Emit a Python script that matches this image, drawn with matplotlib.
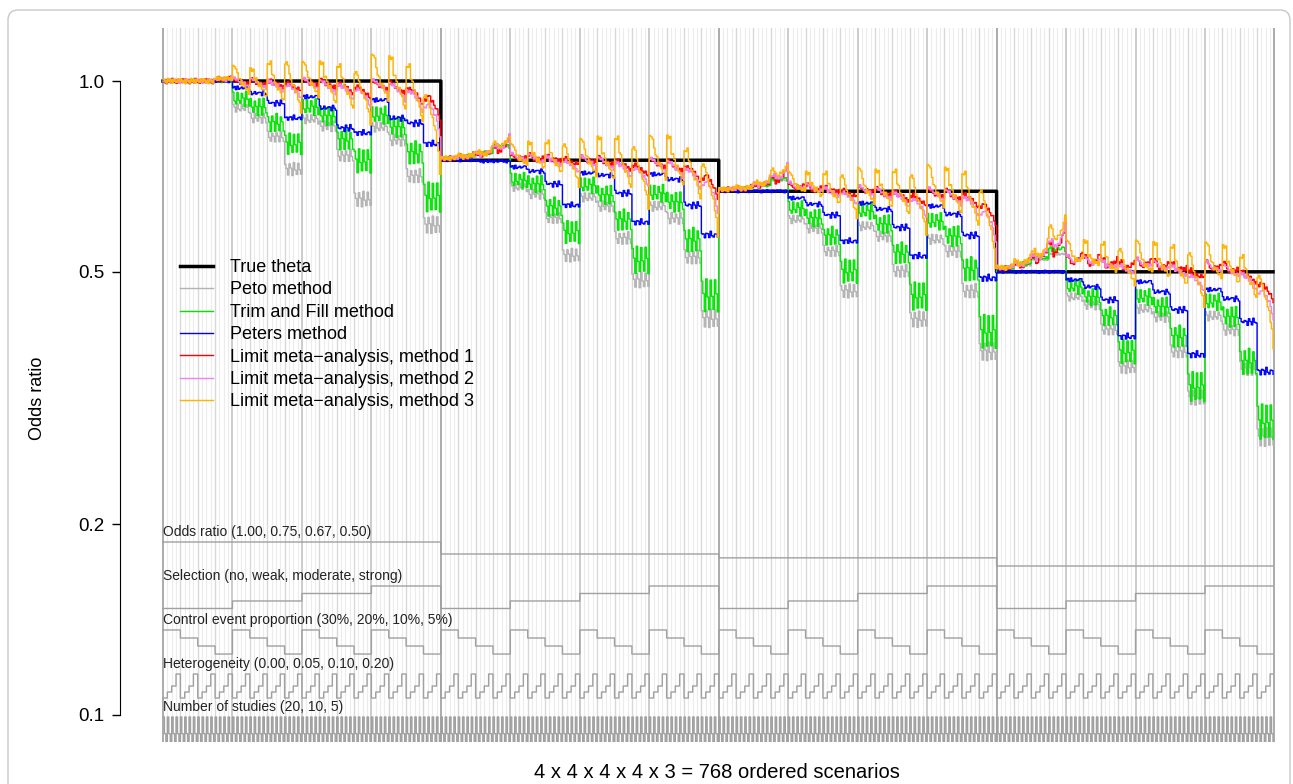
import numpy as np
import matplotlib
matplotlib.use("Agg")
import matplotlib.pyplot as plt
import matplotlib.transforms as mtransforms
from matplotlib.lines import Line2D
from matplotlib.patches import FancyBboxPatch

plt.rcParams["font.family"] = ["Liberation Sans", "DejaVu Sans"]


#*****************************************design factors*****************************************#
odds_ratios = [1.00, 0.75, 0.67, 0.50]
selection = ["no", "weak", "moderate", "strong"]
control_props = [0.30, 0.20, 0.10, 0.05]
heterogeneity = [0.00, 0.05, 0.10, 0.20]
n_studies = [20, 10, 5]

#************************* estimate / true OR, read per block [OR][selection][control] **********#
peto_ratio = [
    [[1.000, 1.000, 1.000, 1.000], [0.907, 0.874, 0.816, 0.726], [0.871, 0.849, 0.762, 0.651], [0.846, 0.807, 0.708, 0.593]],
    [[1.007, 1.015, 1.026, 1.052], [0.907, 0.884, 0.810, 0.708], [0.874, 0.846, 0.753, 0.647], [0.846, 0.810, 0.703, 0.563]],
    [[1.007, 1.011, 1.022, 1.041], [0.903, 0.874, 0.804, 0.696], [0.881, 0.849, 0.748, 0.628], [0.840, 0.804, 0.696, 0.559]],
    [[1.015, 1.026, 1.045, 1.067], [0.913, 0.887, 0.810, 0.708], [0.874, 0.849, 0.748, 0.634], [0.852, 0.810, 0.703, 0.549]],
]
trimfill_ratio = [
    [[1.000, 1.000, 1.000, 1.000], [0.937, 0.910, 0.858, 0.796], [0.910, 0.881, 0.807, 0.748], [0.884, 0.846, 0.770, 0.656]],
    [[1.007, 1.015, 1.026, 1.052], [0.930, 0.917, 0.843, 0.770], [0.913, 0.881, 0.804, 0.696], [0.887, 0.859, 0.748, 0.612]],
    [[1.007, 1.011, 1.022, 1.045], [0.940, 0.907, 0.849, 0.748], [0.930, 0.887, 0.798, 0.683], [0.897, 0.849, 0.753, 0.601]],
    [[1.015, 1.030, 1.052, 1.087], [0.947, 0.913, 0.849, 0.748], [0.913, 0.881, 0.790, 0.659], [0.897, 0.849, 0.721, 0.580]],
]
peters_ratio = [
    [[1.000, 1.000, 1.000, 1.000], [0.975, 0.957, 0.923, 0.874], [0.944, 0.907, 0.843, 0.828], [0.933, 0.874, 0.858, 0.796]],
    [[1.000, 1.000, 0.996, 0.996], [0.975, 0.961, 0.917, 0.849], [0.954, 0.947, 0.887, 0.798], [0.950, 0.933, 0.849, 0.762]],
    [[1.000, 1.000, 1.000, 1.000], [0.975, 0.954, 0.917, 0.834], [0.957, 0.937, 0.877, 0.790], [0.947, 0.920, 0.852, 0.729]],
    [[1.000, 1.000, 1.000, 1.000], [0.971, 0.947, 0.903, 0.790], [0.964, 0.930, 0.871, 0.740], [0.937, 0.907, 0.834, 0.696]],
]
# limit meta-analysis: level for heterogeneity > 0
limit1_tail = [
    [[1.000, 1.000, 1.000, 1.007], [0.993, 0.989, 0.986, 0.975], [0.989, 0.982, 0.971, 0.957], [0.978, 0.968, 0.947, 0.913]],
    [[1.007, 1.015, 1.026, 1.052], [1.007, 1.004, 1.000, 0.989], [0.996, 0.989, 0.978, 0.961], [0.982, 0.971, 0.950, 0.913]],
    [[1.007, 1.011, 1.026, 1.056], [1.015, 1.007, 1.000, 0.986], [1.000, 0.989, 0.978, 0.964], [0.986, 0.978, 0.964, 0.923]],
    [[1.015, 1.030, 1.060, 1.110], [1.045, 1.040, 1.030, 1.020], [1.030, 1.020, 1.010, 0.985], [1.015, 1.005, 0.975, 0.930]],
]
limit2_tail = [
    [[1.000, 1.000, 1.000, 1.007], [0.986, 0.982, 0.975, 0.960], [0.980, 0.970, 0.958, 0.940], [0.970, 0.955, 0.930, 0.880]],
    [[1.007, 1.015, 1.026, 1.055], [1.000, 0.995, 0.988, 0.972], [0.985, 0.978, 0.962, 0.940], [0.972, 0.960, 0.935, 0.885]],
    [[1.007, 1.011, 1.028, 1.060], [1.008, 1.000, 0.988, 0.970], [0.990, 0.980, 0.965, 0.940], [0.978, 0.968, 0.945, 0.890]],
    [[1.015, 1.030, 1.062, 1.120], [1.035, 1.028, 1.015, 0.998], [1.018, 1.008, 0.992, 0.955], [1.002, 0.990, 0.960, 0.895]],
]
limit3_tail = [
    [[1.000, 1.000, 1.000, 1.007], [0.971, 0.964, 0.954, 0.937], [0.964, 0.950, 0.937, 0.913], [0.957, 0.937, 0.910, 0.819]],
    [[1.007, 1.015, 1.026, 1.060], [0.989, 0.982, 0.971, 0.947], [0.964, 0.957, 0.937, 0.903], [0.957, 0.944, 0.913, 0.849]],
    [[1.007, 1.011, 1.030, 1.067], [1.000, 0.989, 0.971, 0.947], [0.971, 0.964, 0.947, 0.913], [0.964, 0.950, 0.923, 0.849]],
    [[1.015, 1.035, 1.070, 1.140], [1.030, 1.020, 1.000, 0.975], [1.000, 0.990, 0.970, 0.930], [0.985, 0.975, 0.940, 0.849]],
]
# limit method 3, level for heterogeneity = 0 (the spikes)
limit3_spike = [
    [[1.000, 1.000, 1.000, 1.011], [1.052, 1.041, 1.067, 1.067], [1.067, 1.067, 1.056, 1.030], [1.095, 1.087, 1.056, 0.947]],
    [[1.007, 1.018, 1.030, 1.067], [1.056, 1.063, 1.067, 1.056], [1.075, 1.083, 1.083, 1.045], [1.087, 1.087, 1.037, 0.982]],
    [[1.007, 1.015, 1.033, 1.083], [1.067, 1.067, 1.067, 1.056], [1.083, 1.075, 1.075, 1.056], [1.095, 1.083, 1.067, 1.000]],
    [[1.018, 1.040, 1.080, 1.180], [1.115, 1.115, 1.107, 1.083], [1.115, 1.107, 1.095, 1.067], [1.107, 1.095, 1.056, 0.982]],
]
limit1_spike_up = [1.000, 1.015, 1.020, 1.025]
limit2_spike_up = [1.000, 1.025, 1.030, 1.035]

# within a control block (heterogeneity x number of studies)
k_saw = [-1, 0, 1, -1, 0, 1, -1, 0, 1, -1, 0, 1]
tail_trend = [1.0, 1.0, 1.0, 0.55, 0.65, 0.75, 0.85, 0.95, 1.05, 1.2, 1.35, 1.65]
spike_carry = [1.0, 1.0, 1.0, 0.55, 0.45, 0.35, 0.25, 0.2, 0.15, 0.1, 0.05, 0.0]
wiggle = [0.0, 0.0025, -0.0015, 0.0010, -0.0030, 0.0020, 0.0005, -0.0020,
          0.0030, -0.0010, 0.0015, -0.0025, 0.0020, -0.0005, -0.0015, 0.0025]


#*****************************************build_series*****************************************#
def build_series(ratio, a0, a1, wig, shift):

    out = []
    for o, theta in enumerate(odds_ratios):
        for s in range(4):
            for c in range(4):
                lb = np.log10(ratio[o][s][c])
                amp = (a0 if s > 0 else 0.0) + a1 * abs(lb)
                for j in range(12):
                    v = lb - amp * k_saw[j] + wig * wiggle[(c * 12 + j + shift) % 16]
                    out.append(theta * 10 ** v)
    return np.array(out)


def build_limit(tail, wig, shift, carry, spike=None, spike_up=None):

    out = []
    for o, theta in enumerate(odds_ratios):
        for s in range(4):
            for c in range(4):
                lt = np.log10(tail[o][s][c])
                if spike is not None:
                    ls = np.log10(spike[o][s][c])
                else:
                    ls = lt + np.log10(spike_up[s])
                for j in range(12):
                    w = carry[j]
                    base = w * ls + (1 - w) * lt * tail_trend[j]
                    out.append(theta * 10 ** (base + wig * wiggle[(c * 12 + j + shift) % 16]))
    return np.array(out)


n = 768
x = np.arange(1, n + 1)
true_theta = np.repeat(odds_ratios, 192)
no_carry = [1.0, 1.0, 1.0] + [0.0] * 9
peto = build_series(peto_ratio, 0.0039, 0.04, 0.6, 0)
trimfill = build_series(trimfill_ratio, 0.0075, 0.08, 1.0, 3)
peters = build_series(peters_ratio, 0.0016, 0.02, 0.8, 7)
limit1 = build_limit(limit1_tail, 1.4, 2, no_carry, spike_up=limit1_spike_up)
limit2 = build_limit(limit2_tail, 1.2, 9, spike_carry, spike_up=limit2_spike_up)
limit3 = build_limit(limit3_tail, 1.4, 5, spike_carry, spike=limit3_spike)

# design step lines: level code per scenario
or_code = np.repeat(odds_ratios, 192)
sel_code = np.tile(np.repeat([0, 1, 2, 3], 48), 4)
ctrl_code = np.tile(np.repeat([3, 2, 1, 0], 12), 16)
het_code = np.tile(np.repeat(heterogeneity, 3), 64)
k_code = np.tile(n_studies, 256)

design = [
    ("Odds ratio (1.00, 0.75, 0.67, 0.50)", or_code, 0.2801, 0.2465),
    ("Selection (no, weak, moderate, strong)", sel_code, 0.2185, 0.1870),
    ("Control event proportion (30%, 20%, 10%, 5%)", ctrl_code, 0.1569, 0.1232),
    ("Heterogeneity (0.00, 0.05, 0.10, 0.20)", het_code, 0.0952, 0.0616),
    ("Number of studies (20, 10, 5)", k_code, 0.0350, 0.0000),
]


#*****************************************plot_figure*****************************************#
fig = plt.figure(figsize=(12.93, 7.84), dpi=100)
ax = fig.add_axes([120 / 1293, 42 / 784, 1170 / 1293, 714 / 784])

px = 1110 / 767
ax.set_xlim(1 - 43 / px, 1 + 1127 / px)
ax.set_yscale("log")
ax.set_ylim(0.0906, 1.2125)

# vertical guide lines
for i in range(0, 257):
    xv = 1 + 3 * i
    if i % 64 == 0:
        col, lw = "#ababab", 1.4
    elif i % 16 == 0:
        col, lw = "#c4c4c4", 1.2
    elif i % 4 == 0:
        col, lw = "#d8d8d8", 1.0
    else:
        col, lw = "#ececec", 0.8
    ax.axvline(xv, color=col, lw=lw, zorder=0)

# design lines
trans = mtransforms.blended_transform_factory(ax.transData, ax.transAxes)
for label, code, top, bottom in design:
    code = np.asarray(code, dtype=float)
    lo, hi = code.min(), code.max()
    yv = bottom + (code - lo) / (hi - lo) * (top - bottom)
    ax.plot(x, yv, drawstyle="steps-post", color="#a0a0a0", lw=1.0, transform=trans, zorder=1)
    ax.text(1, top + 0.0135, label, transform=trans, fontsize=10, ha="left", va="center", color="#222222")

series = [
    ("True theta", true_theta, "black", 2.5),
    ("Peto method", peto, "#b3b3b3", 1.0),
    ("Trim and Fill method", trimfill, "#00e600", 1.0),
    ("Peters method", peters, "#0000ff", 1.0),
    ("Limit meta\u2212analysis, method 1", limit1, "#ff0000", 1.0),
    ("Limit meta\u2212analysis, method 2", limit2, "#ee82ee", 1.0),
    ("Limit meta\u2212analysis, method 3", limit3, "#ffb400", 1.0),
]
handles = []
for label, values, col, lw in series:
    ax.plot(x, values, drawstyle="steps-post", color=col, lw=lw, zorder=2)
    handles.append(Line2D([0], [0], color=col, lw=lw, label=label))

leg = ax.legend(handles=handles, loc="upper left", bbox_to_anchor=(180 / 1293, 1 - 259 / 784),
                bbox_transform=fig.transFigure, frameon=False, fontsize=13, borderpad=0,
                borderaxespad=0, handlelength=1.85, handletextpad=0.9, labelspacing=0.3)

# axes styling (R-like)
for side in ["top", "right", "bottom"]:
    ax.spines[side].set_visible(False)
ax.spines["left"].set_bounds(0.1, 1.0)
ax.set_xticks([])
ax.set_yticks([0.1, 0.2, 0.5, 1.0])
ax.set_yticklabels(["0.1", "0.2", "0.5", "1.0"])
ax.yaxis.set_minor_locator(matplotlib.ticker.NullLocator())
ax.tick_params(axis="y", direction="out", length=6, width=1, labelsize=13.5, pad=5)

fig.text(37 / 1293, 1 - 398 / 784, "Odds ratio", rotation=90, ha="center", va="center", fontsize=13)
fig.text(717 / 1293, 1 - 773 / 784, "4 x 4 x 4 x 4 x 3 = 768 ordered scenarios", ha="center", va="center", fontsize=14.5)

frame = FancyBboxPatch((0.08, -0.3), 12.82, 8.04, boxstyle="round,pad=0,rounding_size=0.1",
                       transform=fig.dpi_scale_trans, fill=False, edgecolor="#c8c8c8", lw=1.0)
fig.patches.append(frame)

fig.savefig("out.png", dpi=100)
